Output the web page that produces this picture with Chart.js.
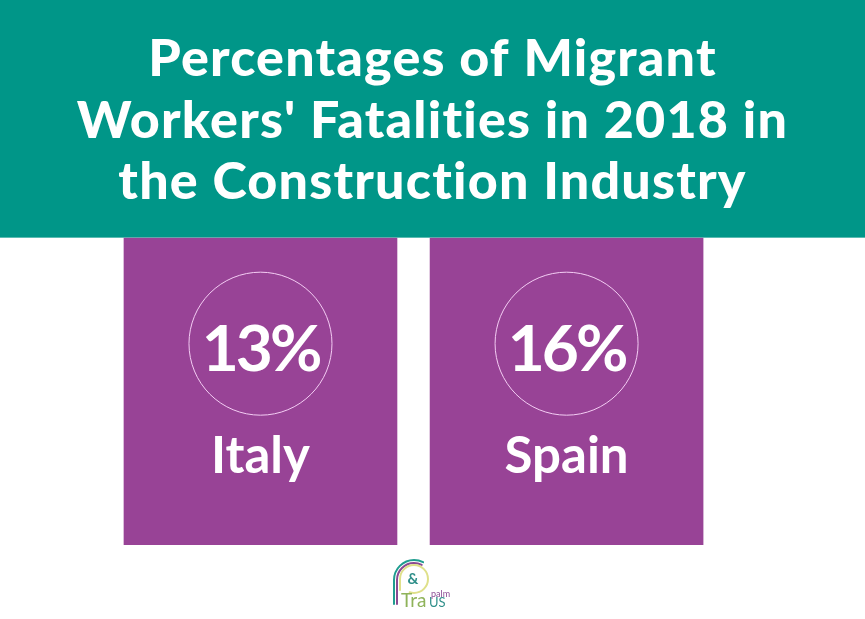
<!DOCTYPE html>
<html>
<head>
<meta charset="utf-8">
<script src="https://cdn.jsdelivr.net/npm/chart.js@4"></script>
<style>
  html, body { margin: 0; padding: 0; background: #fff; }
  #wrap { width: 865px; height: 619px; position: relative; overflow: hidden; }
</style>
</head>
<body>
<div id="wrap"><canvas id="chart" width="865" height="619"></canvas></div>
<script>
const titleLines = ["Percentages of Migrant", "Workers' Fatalities in 2018 in", "the Construction Industry"];
const countries = ["Italy", "Spain"];
const percentages = [13, 16];

const teal = "#009688";
const purple = "#984396";
const ringColor = "#f4cdf4";
const textFont = "Lato, 'Open Sans', sans-serif";

// fill the banner behind the title
const bannerPlugin = {
  id: "banner",
  beforeDraw(chart) {
    const ctx = chart.ctx;
    ctx.save();
    ctx.fillStyle = teal;
    ctx.fillRect(0, 0, chart.width, chart.chartArea.top);
    ctx.restore();
    // the title plugin has no spacing option, so set it on the context
    ctx.letterSpacing = "1.2px";
  },
};

// percentage + country name on each panel
const panelTextPlugin = {
  id: "panelText",
  afterDatasetsDraw(chart) {
    const ctx = chart.ctx;
    const top = chart.chartArea.top;
    ctx.letterSpacing = "0px";
    ctx.save();
    ctx.fillStyle = "#ffffff";
    ctx.textAlign = "center";
    ctx.textBaseline = "alphabetic";
    countries.forEach((name, i) => {
      const x = chart.scales.x.getPixelForValue(i);
      ctx.letterSpacing = "-3px";
      ctx.font = "700 64px " + textFont;
      ctx.fillText(percentages[i] + "%", x, top + 133);
      ctx.letterSpacing = "0px";
      ctx.font = "700 51px " + textFont;
      ctx.fillText(name, x, top + 235);
    });
    ctx.restore();
  },
};

// small logo under the panels
const logoPlugin = {
  id: "logo",
  afterDraw(chart) {
    const ctx = chart.ctx;
    ctx.save();
    ctx.lineWidth = 2;
    ctx.lineCap = "round";
    const arch = (color, x, top, r, bottom) => {
      ctx.strokeStyle = color;
      ctx.beginPath();
      ctx.moveTo(x, bottom);
      ctx.arc(x + r, top + r, r, Math.PI, Math.PI * 1.65);
      ctx.stroke();
    };
    arch("#1f9d8f", 394, 560, 20, 604);
    arch("#8a4a93", 397, 563, 17, 604);
    ctx.strokeStyle = "#dfe08a";
    ctx.beginPath();
    ctx.moveTo(400, 590);
    ctx.lineTo(400, 579);
    ctx.arc(414, 579, 14, Math.PI, Math.PI * 2.6);
    ctx.stroke();
    ctx.font = "700 15px " + textFont;
    ctx.fillStyle = "#2f8f8a";
    ctx.textAlign = "center";
    ctx.fillText("&", 413, 584);
    ctx.textAlign = "left";
    ctx.font = "19px " + textFont;
    ctx.fillStyle = "#8fb35a";
    ctx.fillText("Tra", 401, 607);
    ctx.font = "13px " + textFont;
    ctx.fillStyle = "#2f8f8a";
    ctx.fillText("US", 429, 607);
    ctx.font = "9px " + textFont;
    ctx.fillStyle = "#8a4a93";
    ctx.fillText("palm", 431, 597);
    ctx.restore();
  },
};

new Chart(document.getElementById("chart"), {
  data: {
    datasets: [
      {
        // ring around the percentage
        type: "line",
        data: countries.map((c, i) => ({ x: i, y: 0.655 })),
        showLine: false,
        pointRadius: 71.5,
        pointBorderWidth: 1,
        pointBorderColor: ringColor,
        pointBackgroundColor: "rgba(0,0,0,0)",
        order: 0,
      },
      {
        // panels are all the same height in the picture, not scaled by value
        type: "bar",
        data: countries.map((c, i) => ({ x: i, y: 1 })),
        backgroundColor: purple,
        barThickness: 273,
        order: 1,
      },
    ],
  },
  options: {
    responsive: false,
    animation: false,
    // big ring points would otherwise shrink the chart area
    layout: { autoPadding: false, padding: { left: 0, right: 0, top: 0, bottom: 74 } },
    scales: {
      // full-width scale so the title gets the whole banner; range puts the panels off-centre
      x: { type: "linear", display: false, offset: false, min: -0.851, max: 1.975 },
      y: { display: false, min: 0, max: 1 },
    },
    plugins: {
      legend: { display: false },
      tooltip: { enabled: false },
      title: {
        display: true,
        text: titleLines,
        color: "#ffffff",
        font: { family: textFont, size: 52, weight: "900", lineHeight: 1.19 },
        padding: { top: 28, bottom: 24 },
      },
    },
  },
  plugins: [bannerPlugin, panelTextPlugin, logoPlugin],
});
</script>
</body>
</html>
